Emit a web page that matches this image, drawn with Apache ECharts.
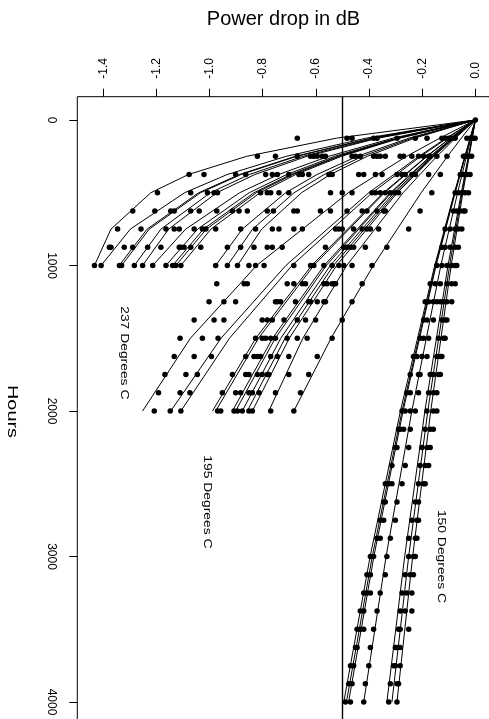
<!DOCTYPE html>
<html>
<head>
<meta charset="utf-8">
<title>Power drop in dB</title>
<script src="https://cdn.jsdelivr.net/npm/echarts@6.0.0/dist/echarts.min.js"></script>
<style>
	html, body { margin: 0; padding: 0; background: #fff; }
	#chart { width: 489px; height: 719px; }
</style>
</head>
<body>
<div id="chart"></div>
<script>
	'use strict'
	/*---- tick labels ----*/
	var dropTicks = [-1.4, -1.2, -1.0, -0.8, -0.6, -0.4, -0.2, 0.0];
	var hourTicks = [0, 1000, 2000, 3000, 4000];
	var failureLevel = -0.5;

	/*---- measured power drop, one row per inspection time ----*/
	var obsHours = [0, 125, 250, 375, 500, 625, 750, 875, 1000, 1125, 1250, 1375, 1500, 1625, 1750, 1875, 2000,
		2125, 2250, 2375, 2500, 2625, 2750, 2875, 3000, 3125, 3250, 3375, 3500, 3625, 3750, 3875, 4000];
	var obsDrop = [
		[0],
		[-0.670, -0.483, -0.464, -0.383, -0.370, -0.295, -0.226, -0.182, -0.126, -0.114, -0.101, -0.089, -0.076, -0.032, -0.020, -0.007, -0.001],
		[-0.820, -0.752, -0.670, -0.620, -0.608, -0.595, -0.576, -0.564, -0.464, -0.451, -0.433, -0.383, -0.370, -0.358, -0.339, -0.283, -0.270, -0.239, -0.214, -0.195, -0.176, -0.170, -0.145, -0.107, -0.045, -0.039, -0.032, -0.026, -0.014],
		[-1.077, -1.021, -0.902, -0.864, -0.789, -0.764, -0.745, -0.702, -0.664, -0.651, -0.627, -0.551, -0.539, -0.439, -0.420, -0.376, -0.351, -0.295, -0.276, -0.264, -0.239, -0.226, -0.176, -0.132, -0.057, -0.045, -0.032, -0.020],
		[-1.196, -1.071, -1.008, -0.983, -0.970, -0.808, -0.783, -0.770, -0.739, -0.702, -0.545, -0.501, -0.464, -0.389, -0.376, -0.358, -0.339, -0.320, -0.301, -0.289, -0.164, -0.076, -0.064, -0.051, -0.039, -0.026],
		[-1.289, -1.206, -1.146, -1.133, -1.071, -1.039, -0.973, -0.914, -0.889, -0.858, -0.783, -0.760, -0.683, -0.670, -0.583, -0.545, -0.483, -0.426, -0.408, -0.370, -0.345, -0.339, -0.208, -0.082, -0.070, -0.057, -0.045, -0.039],
		[-1.346, -1.258, -1.164, -1.133, -1.114, -1.058, -1.027, -1.014, -0.977, -0.883, -0.827, -0.764, -0.739, -0.683, -0.651, -0.526, -0.514, -0.501, -0.458, -0.426, -0.408, -0.395, -0.364, -0.251, -0.114, -0.095, -0.076, -0.064, -0.051],
		[-1.377, -1.371, -1.321, -1.289, -1.233, -1.183, -1.114, -1.108, -1.096, -1.071, -1.033, -0.933, -0.883, -0.833, -0.783, -0.764, -0.727, -0.564, -0.495, -0.483, -0.470, -0.458, -0.414, -0.333, -0.126, -0.114, -0.095, -0.076, -0.064],
		[-1.433, -1.408, -1.339, -1.331, -1.283, -1.252, -1.214, -1.164, -1.139, -1.127, -1.108, -0.977, -0.933, -0.895, -0.852, -0.827, -0.795, -0.683, -0.620, -0.608, -0.570, -0.539, -0.514, -0.495, -0.464, -0.389, -0.145, -0.126, -0.107, -0.089, -0.076, -0.070],
		[-0.973, -0.870, -0.858, -0.708, -0.683, -0.651, -0.639, -0.570, -0.558, -0.539, -0.533, -0.526, -0.426, -0.170, -0.151, -0.132, -0.107, -0.089, -0.076],
		[-1.002, -0.946, -0.902, -0.752, -0.745, -0.733, -0.677, -0.627, -0.620, -0.595, -0.570, -0.564, -0.464, -0.189, -0.176, -0.158, -0.145, -0.132, -0.120, -0.107, -0.089],
		[-1.058, -0.983, -0.946, -0.802, -0.783, -0.764, -0.720, -0.670, -0.639, -0.601, -0.501, -0.195, -0.182, -0.158, -0.126, -0.114, -0.107],
		[-1.111, -1.027, -0.968, -0.827, -0.802, -0.789, -0.770, -0.752, -0.708, -0.670, -0.633, -0.539, -0.208, -0.195, -0.176, -0.139, -0.120, -0.114],
		[-1.133, -1.058, -0.993, -0.864, -0.833, -0.820, -0.808, -0.770, -0.745, -0.702, -0.595, -0.233, -0.220, -0.201, -0.182, -0.145, -0.132, -0.126],
		[-1.168, -1.089, -1.046, -0.914, -0.864, -0.852, -0.820, -0.802, -0.783, -0.777, -0.702, -0.627, -0.245, -0.214, -0.208, -0.170, -0.158, -0.139, -0.132],
		[-1.192, -1.111, -1.074, -0.952, -0.902, -0.883, -0.852, -0.839, -0.814, -0.752, -0.658, -0.258, -0.245, -0.214, -0.176, -0.158, -0.145],
		[-1.208, -1.148, -1.108, -0.970, -0.958, -0.908, -0.895, -0.877, -0.852, -0.839, -0.770, -0.683, -0.276, -0.264, -0.245, -0.226, -0.182, -0.158, -0.145],
		[-0.289, -0.283, -0.270, -0.245, -0.189, -0.170, -0.158],
		[-0.301, -0.295, -0.251, -0.201, -0.182, -0.170],
		[-0.314, -0.264, -0.208, -0.189, -0.176],
		[-0.339, -0.326, -0.314, -0.276, -0.214, -0.195, -0.189],
		[-0.345, -0.339, -0.295, -0.226, -0.214],
		[-0.358, -0.345, -0.301, -0.239, -0.220, -0.214],
		[-0.370, -0.358, -0.320, -0.251, -0.226, -0.220],
		[-0.395, -0.383, -0.333, -0.251, -0.233, -0.226],
		[-0.408, -0.395, -0.339, -0.264, -0.245, -0.233],
		[-0.420, -0.408, -0.395, -0.358, -0.276, -0.258, -0.239],
		[-0.433, -0.420, -0.370, -0.283, -0.264, -0.239],
		[-0.445, -0.433, -0.420, -0.383, -0.289, -0.283, -0.251],
		[-0.451, -0.445, -0.395, -0.301, -0.295, -0.283],
		[-0.470, -0.458, -0.401, -0.308, -0.301, -0.283],
		[-0.476, -0.464, -0.414, -0.320, -0.295, -0.289],
		[-0.489, -0.470, -0.420, -0.326, -0.295]
	];

	/*---- fitted path of each unit, read at a few times ----*/
	var fit150Hours = [0, 500, 1000, 2000, 3000, 4000];
	var fit150Drop = [
		[0, -0.079, -0.153, -0.282, -0.396, -0.495],
		[0, -0.078, -0.150, -0.276, -0.388, -0.485],
		[0, -0.076, -0.148, -0.272, -0.382, -0.477],
		[0, -0.067, -0.130, -0.239, -0.336, -0.420],
		[0, -0.053, -0.103, -0.190, -0.266, -0.333],
		[0, -0.050, -0.097, -0.179, -0.251, -0.314],
		[0, -0.047, -0.091, -0.168, -0.236, -0.295]
	];
	var fit195Hours = [0, 125, 250, 500, 1000, 1500, 2000];
	var fit195Drop = [
		[0, -0.134, -0.259, -0.478, -0.823, -1.072, -1.252],
		[0, -0.110, -0.213, -0.401, -0.713, -0.957, -1.146],
		[0, -0.106, -0.206, -0.388, -0.690, -0.925, -1.108],
		[0, -0.095, -0.184, -0.346, -0.616, -0.826, -0.989],
		[0, -0.094, -0.182, -0.342, -0.608, -0.816, -0.977],
		[0, -0.088, -0.170, -0.320, -0.569, -0.763, -0.914],
		[0, -0.087, -0.168, -0.316, -0.561, -0.753, -0.902],
		[0, -0.084, -0.163, -0.307, -0.546, -0.732, -0.877],
		[0, -0.082, -0.160, -0.300, -0.534, -0.716, -0.858],
		[0, -0.080, -0.156, -0.294, -0.522, -0.700, -0.839],
		[0, -0.075, -0.145, -0.272, -0.484, -0.649, -0.777],
		[0, -0.053, -0.105, -0.204, -0.384, -0.543, -0.683]
	];
	var fit237Hours = [0, 125, 250, 375, 500, 750, 1000];
	var fit237Drop = [
		[0, -0.523, -0.861, -1.080, -1.221, -1.371, -1.433],
		[0, -0.411, -0.712, -0.934, -1.094, -1.298, -1.408],
		[0, -0.391, -0.678, -0.888, -1.041, -1.235, -1.340],
		[0, -0.389, -0.673, -0.882, -1.034, -1.227, -1.331],
		[0, -0.375, -0.649, -0.851, -0.997, -1.183, -1.283],
		[0, -0.366, -0.634, -0.830, -0.973, -1.154, -1.252],
		[0, -0.311, -0.552, -0.741, -0.887, -1.090, -1.214],
		[0, -0.298, -0.530, -0.710, -0.851, -1.045, -1.164],
		[0, -0.292, -0.518, -0.695, -0.833, -1.023, -1.139],
		[0, -0.289, -0.513, -0.687, -0.824, -1.012, -1.127],
		[0, -0.284, -0.504, -0.676, -0.810, -0.995, -1.108],
		[0, -0.250, -0.445, -0.596, -0.714, -0.877, -0.977],
		[0, -0.239, -0.425, -0.569, -0.682, -0.838, -0.933],
		[0, -0.229, -0.407, -0.546, -0.654, -0.804, -0.895]
	];

	var groupNames = ['237 Degrees C', '195 Degrees C', '150 Degrees C'];

	var font = '"Liberation Sans", Arial, Helvetica, sans-serif';

	function fitSeries(hours, drops) {
		return drops.map(function(row) {
			return {
				type: 'line',
				data: row.map(function(v, i) { return [v, hours[i]]; }),
				symbol: 'none',
				silent: true,
				z: 2,
				lineStyle: { color: '#000', width: 1 }
			};
		});
	}

	var points = [];
	obsHours.forEach(function(h, i) {
		obsDrop[i].forEach(function(v) { points.push([v, h]); });
	});

	var series = []
		.concat(fitSeries(fit150Hours, fit150Drop))
		.concat(fitSeries(fit195Hours, fit195Drop))
		.concat(fitSeries(fit237Hours, fit237Drop));
	series.push({
		type: 'scatter',
		data: points,
		symbol: 'circle',
		symbolSize: 5.5,
		z: 3,
		silent: true,
		itemStyle: { color: '#000', opacity: 1 },
		markLine: {
			silent: true,
			symbol: ['none', 'none'],
			label: { show: false },
			lineStyle: { color: '#000', width: 1.4, type: 'solid' },
			data: [{ xAxis: failureLevel }]
		}
	});

	var chart = echarts.init(document.getElementById('chart'));
	chart.setOption({
		animation: false,
		backgroundColor: '#fff',
		grid: {
			left: 77.3,
			top: 96.7,
			width: 413.4,
			height: 628.6,
			outerBoundsMode: 'none',
			containLabel: false,
			show: true,
			borderColor: '#000',
			borderWidth: 1
		},
		xAxis: {
			type: 'value',
			position: 'top',
			min: -1.4976,
			max: 0.0576,
			axisLine: { show: false, onZero: false },
			splitLine: { show: false },
			axisTick: {
				customValues: dropTicks,
				length: 8,
				lineStyle: { color: '#000', width: 1 }
			},
			axisLabel: {
				customValues: dropTicks,
				rotate: -90,
				margin: 18,
				fontSize: 12,
				fontFamily: font,
				color: '#000',
				formatter: function(v) { return v.toFixed(1); }
			}
		},
		yAxis: {
			type: 'value',
			position: 'left',
			inverse: true,
			min: -160,
			max: 4160,
			axisLine: { show: false, onZero: false },
			splitLine: { show: false },
			axisTick: {
				customValues: hourTicks,
				length: 8,
				lineStyle: { color: '#000', width: 1 }
			},
			axisLabel: {
				customValues: hourTicks,
				rotate: -90,
				margin: 20,
				fontSize: 12,
				fontFamily: font,
				color: '#000',
				formatter: function(v) { return String(v); }
			}
		},
		series: series
	});

	/*---- titles and group labels ----*/
	function rotatedText(txt, pos, size, stretch) {
		return {
			type: 'text',
			x: pos[0],
			y: pos[1],
			rotation: -Math.PI / 2,
			scaleX: stretch,
			silent: true,
			style: {
				text: txt,
				fill: '#000',
				font: size + 'px ' + font,
				textAlign: 'center',
				textVerticalAlign: 'middle',
				align: 'center',
				verticalAlign: 'middle'
			}
		};
	}
	var labelAt = [[-1.32, 1600], [-1.01, 2625], [-0.13, 3000]];
	var graphics = groupNames.map(function(name, i) {
		return rotatedText(name, chart.convertToPixel({ gridIndex: 0 }, labelAt[i]), 11, 1.26);
	});
	graphics.push(rotatedText('Hours', [11.5, 411.5], 14, 1.42));
	graphics.push({
		type: 'text',
		x: 283.5,
		y: 19,
		silent: true,
		style: {
			text: 'Power drop in dB',
			fill: '#000',
			font: '20px ' + font,
			textAlign: 'center',
			textVerticalAlign: 'middle',
			align: 'center',
			verticalAlign: 'middle'
		}
	});
	chart.setOption({ graphic: graphics });
</script>
